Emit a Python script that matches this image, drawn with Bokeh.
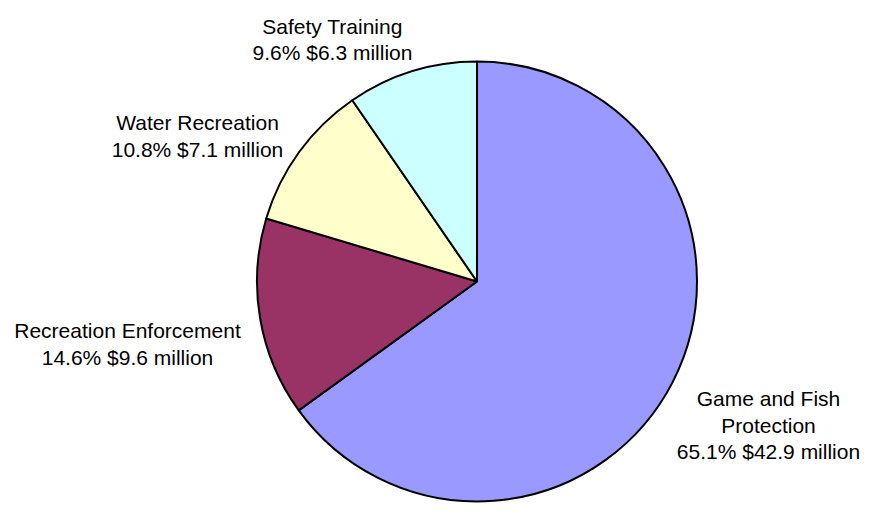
import math
from bokeh.plotting import figure
from bokeh.models import Range1d, ColumnDataSource
from bokeh.core.properties import value
from bokeh.embed import file_html
from bokeh.resources import INLINE

# ---- data ----
categories = ["Game and Fish Protection", "Recreation Enforcement", "Water Recreation", "Safety Training"]
percents = [65.1, 14.6, 10.8, 9.6]
millions = [42.9, 9.6, 7.1, 6.3]
colors = ["#9999FF", "#993366", "#FFFFCC", "#CCFFFF"]
label_lines = [
    ["Game and Fish", "Protection", "65.1% $42.9 million"],
    ["Recreation Enforcement", "14.6% $9.6 million"],
    ["Water Recreation", "10.8% $7.1 million"],
    ["Safety Training", "9.6% $6.3 million"],
]

# ---- layout (pixel coordinates from the top-left of the figure) ----
FW, FH = 863, 503
cx, cy_screen, r = 476.5, 281.0, 220.0
label_x = [768, 127, 197, 332]
label_baselines = [[398.0, 424.5, 451.0], [330.0, 356.7], [121.7, 149.0], [26.0, 52.0]]

def Y(ys):
    return FH - ys

p = figure(width=FW, height=FH, output_backend="svg", toolbar_location=None,
           x_range=Range1d(0, FW), y_range=Range1d(0, FH),
           min_border=0, outline_line_color=None)
p.axis.visible = False
p.grid.visible = False
p.background_fill_color = "white"
p.border_fill_color = "white"

total = sum(percents)
starts, ends = [], []
a = math.pi / 2
for v in percents:
    starts.append(a)
    a -= v / total * 2 * math.pi
    ends.append(a)

src = ColumnDataSource(dict(start=starts, end=ends, color=colors,
                            x=[cx] * len(percents), y=[Y(cy_screen)] * len(percents)))
p.wedge(x="x", y="y", radius=r, start_angle="start", end_angle="end", direction="clock",
        fill_color="color", line_color="black", line_width=2, source=src)

tx, ty, tt = [], [], []
for lx, lines, bls in zip(label_x, label_lines, label_baselines):
    for line, b in zip(lines, bls):
        tx.append(lx)
        ty.append(Y(b))
        tt.append(line)
p.text(x=tx, y=ty, text=tt, text_align="center", text_baseline="alphabetic",
       text_font=value("Liberation Sans"), text_font_size="21px", text_color="black")

open("out.html", "w").write(file_html(p, INLINE))
